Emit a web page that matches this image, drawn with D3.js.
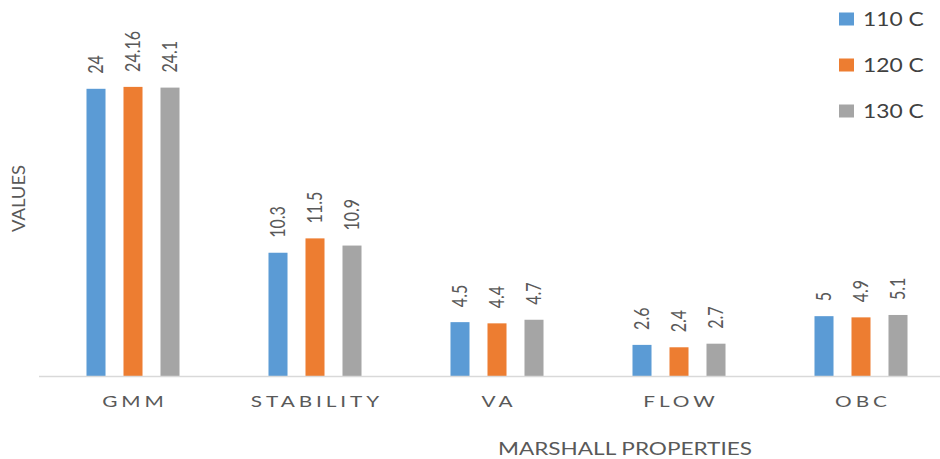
<!DOCTYPE html>
<html>
<head>
<meta charset="utf-8">
<script src="https://cdn.jsdelivr.net/npm/d3@7/dist/d3.min.js"></script>
<style>
  html, body { margin: 0; padding: 0; background: #fff; }
  svg { display: block; font-family: Lato, "Open Sans", sans-serif; }
</style>
</head>
<body>
<svg id="chart" width="940" height="459"></svg>
<script>
// Marshall properties at three mixing temperatures
const categories = ["GMM", "STABILITY", "VA", "FLOW", "OBC"];
const seriesNames = ["110 C", "120 C", "130 C"];
const values110 = [24, 10.3, 4.5, 2.6, 5];
const values120 = [24.16, 11.5, 4.4, 2.4, 4.9];
const values130 = [24.1, 10.9, 4.7, 2.7, 5.1];
const seriesValues = [values110, values120, values130];
const colors = ["#5B9BD5", "#ED7D31", "#A5A5A5"];

const svg = d3.select("#chart");
const textColor = "#595959";
const sx = 1.3; // horizontal stretch applied to all text

const x0 = d3.scaleBand().domain(categories).range([42, 952]);
const x1 = d3.scaleBand().domain(seriesNames)
  .range([-55.5, 55.5]).paddingInner(0.486).paddingOuter(0.243);
const y = d3.scaleLinear().domain([0, 30]).range([376, 17]);

const rows = categories.map((c, i) => ({
  cat: c,
  items: seriesNames.map((s, j) => ({ s, j, v: seriesValues[j][i] }))
}));

// bars
const groups = svg.append("g").selectAll("g").data(rows).join("g")
  .attr("transform", d => `translate(${x0(d.cat) + x0.bandwidth() / 2},0)`);

groups.selectAll("rect").data(d => d.items).join("rect")
  .attr("x", d => x1(d.s))
  .attr("width", x1.bandwidth())
  .attr("y", d => y(d.v))
  .attr("height", d => y(0) - y(d.v))
  .attr("fill", d => colors[d.j]);

// value labels, rotated
groups.selectAll("text").data(d => d.items).join("text")
  .attr("transform", d =>
    `translate(${x1(d.s) + x1.bandwidth() / 2},${y(d.v) - 15}) scale(${sx},1) rotate(-90)`)
  .attr("dy", "0.36em")
  .attr("font-size", 16)
  .attr("fill", textColor)
  .text(d => d.v);

// category axis line
svg.append("line")
  .attr("x1", 39).attr("x2", 940)
  .attr("y1", y(0) + 0.5).attr("y2", y(0) + 0.5)
  .attr("stroke", "#d9d9d9").attr("stroke-width", 1.5);

// category labels
const ls = 3;
svg.append("g").selectAll("text").data(categories).join("text")
  .attr("transform", d =>
    `translate(${x0(d) + x0.bandwidth() / 2 + ls * sx / 2},407) scale(${sx},1)`)
  .attr("text-anchor", "middle")
  .attr("font-size", 16)
  .attr("letter-spacing", ls)
  .attr("fill", textColor)
  .text(d => d);

// axis titles
svg.append("text")
  .attr("x", 498).attr("y", 455)
  .attr("font-size", 17)
  .attr("textLength", 254).attr("lengthAdjust", "spacingAndGlyphs")
  .attr("fill", textColor)
  .text("MARSHALL PROPERTIES");

svg.append("text")
  .attr("transform", "translate(25,232) rotate(-90)")
  .attr("font-size", 17)
  .attr("textLength", 67).attr("lengthAdjust", "spacingAndGlyphs")
  .attr("fill", textColor)
  .text("VALUES");

// legend
const legend = svg.append("g").selectAll("g").data(seriesNames).join("g")
  .attr("transform", (d, i) => `translate(839,${19 + i * 46})`);
legend.append("rect")
  .attr("x", 0).attr("y", -6.5).attr("width", 15).attr("height", 13)
  .attr("fill", (d, i) => colors[i]);
legend.append("text")
  .attr("transform", `translate(24,7) scale(1.2,1)`)
  .attr("font-size", 19)
  .attr("fill", "#404040")
  .text(d => d);
</script>
</body>
</html>
